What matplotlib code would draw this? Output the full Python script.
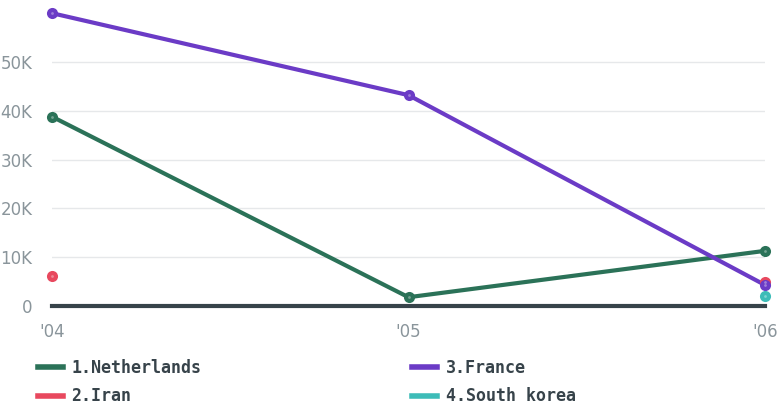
import matplotlib.pyplot as plt
import numpy as np
from matplotlib.lines import Line2D

# Данные
years = ["'04", "'05", "'06"]
netherlands = [38800, 1800, 11300]
iran = [6100, np.nan, 4900]
france = [60000, 43200, 4300]
south_korea = [np.nan, np.nan, 2000]

names = ['1.Netherlands', '2.Iran', '3.France', '4.South korea']
colors = ['#2b7258', '#e8485e', '#6b3bc6', '#3dbcb8']
series = [netherlands, iran, france, south_korea]

fig = plt.figure(figsize=(7.78, 4.07), dpi=100)
ax = fig.add_axes([52 / 778, 1 - 306 / 407, (765 - 52) / 778, 306 / 407])

x = np.arange(len(years))
for vals, c in zip(series, colors):
    ax.plot(x, vals, color=c, lw=3, solid_capstyle='round', zorder=3, clip_on=False)
    ax.plot(x, vals, 'o', color=c, ms=8, mew=0, zorder=4, clip_on=False)
    ax.plot(x, vals, 'o', color='white', ms=2, mew=0, alpha=0.35, zorder=5, clip_on=False)

ax.set_xlim(0, 2)
ax.set_ylim(0, 62700)
ax.set_yticks([0, 10000, 20000, 30000, 40000, 50000])
ax.set_yticklabels(['0', '10K', '20K', '30K', '40K', '50K'])
ax.set_xticks(x)
ax.set_xticklabels(years)
ax.grid(axis='y', color='#e6e8ea', lw=1)
ax.axhline(0, color='#37434a', lw=3, zorder=2, clip_on=False)
ax.set_axisbelow(True)
for s in ax.spines.values():
    s.set_visible(False)
ax.tick_params(length=0, colors='#8a959b', labelsize=12)
ax.tick_params(axis='y', pad=14)
ax.tick_params(axis='x', pad=12)
for lbl in ax.get_xticklabels() + ax.get_yticklabels():
    lbl.set_fontfamily('Liberation Sans Narrow')

# Легенда
handles = [Line2D([0], [0], color=c, lw=4) for c in colors]
fig.legend(handles, names, loc='upper left', bbox_to_anchor=(38 / 778, 1 - 359 / 407),
           ncol=2, frameon=False, handlelength=1.5, handletextpad=0.5,
           columnspacing=12.65, labelspacing=0.62, borderpad=0, borderaxespad=0,
           prop={'family': 'DejaVu Sans Mono', 'weight': 'bold', 'size': 12},
           labelcolor='#37434a')

fig.savefig('out.png', dpi=100)
